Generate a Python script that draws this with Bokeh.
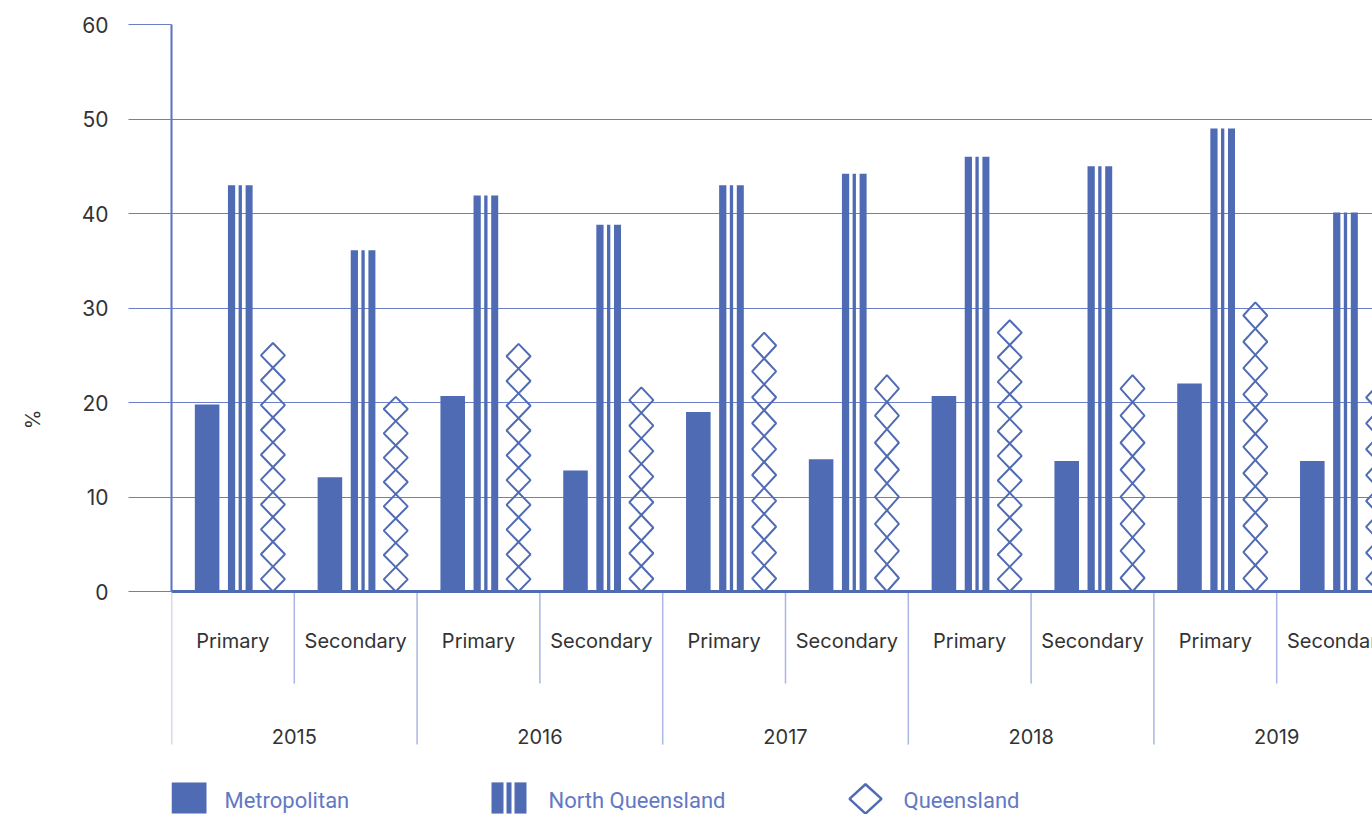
from bokeh.plotting import figure
from bokeh.models import Range1d, FixedTicker
from bokeh.core.properties import value
from bokeh.embed import file_html
from bokeh.resources import INLINE

# ---------------- data ----------------
years = ["2015", "2016", "2017", "2018", "2019"]
levels = ["Primary", "Secondary"]
metropolitan = [19.8, 12.1, 20.7, 12.8, 19.0, 14.0, 20.7, 13.8, 22.0, 13.8]
north_queensland = [43.0, 36.1, 41.9, 38.8, 43.0, 44.2, 46.0, 45.0, 49.0, 40.1]
queensland = [26.3, 20.6, 26.2, 21.6, 27.4, 22.9, 28.7, 22.9, 30.6, 21.9]
y_ticks = [0, 10, 20, 30, 40, 50, 60]
series_names = ["Metropolitan", "North Queensland", "Queensland"]

# ---------------- style ----------------
BLUE = "#4f6bb4"
GRID = "#6b7fc8"
SEP = "#a9b6e4"
TXT = "#333333"
LEG_TXT = "#6378c4"
PX = 122.8          # pixels per slot
FONT = "Inter"
X_END = 1201 / PX

n_slots = len(years) * len(levels)
slot_x = [i + 0.5 for i in range(n_slots)]
sub_labels = [lv for _ in years for lv in levels]

p = figure(width=1372, height=814, output_backend="svg", toolbar_location=None,
           x_range=Range1d(0, X_END), y_range=Range1d(60 - 790 / 9.45, 60),
           x_axis_location=None, min_border_left=171, min_border_right=0,
           min_border_top=24, min_border_bottom=0)
p.outline_line_color = None
p.background_fill_color = "white"
p.xgrid.visible = False
p.ygrid.ticker = FixedTicker(ticks=y_ticks)
p.ygrid.grid_line_color = GRID
p.ygrid.grid_line_width = 1

ax = p.yaxis[0]
ax.ticker = FixedTicker(ticks=y_ticks)
ax.bounds = (0, 60)
ax.axis_line_color = "#5b70bf"
ax.axis_line_width = 2
ax.major_tick_in = 0
ax.major_tick_out = 43
ax.major_tick_line_color = GRID
ax.major_tick_line_width = 1
ax.minor_tick_line_color = None
ax.major_label_standoff = 20
ax.major_label_text_font = FONT
ax.major_label_text_font_size = "21px"
ax.major_label_text_color = TXT
ax.axis_label = "%"
ax.axis_label_text_font = FONT
ax.axis_label_text_font_size = "20px"
ax.axis_label_text_font_style = "normal"
ax.axis_label_text_color = TXT
ax.axis_label_standoff = 34

# ---- Metropolitan bars ----
p.vbar(x=[c - 0.21 for c in slot_x], top=metropolitan, bottom=0, width=0.2,
       fill_color=BLUE, line_color=None)

# ---- North Queensland striped bars ----
stripe_off = [-0.071, 0.0, 0.072]
stripe_w = [0.059, 0.027, 0.057]
for off, w in zip(stripe_off, stripe_w):
    p.vbar(x=[c + 0.06 + off for c in slot_x], top=north_queensland, bottom=0,
           width=w, fill_color=BLUE, line_color=None)

# ---- Queensland diamond stacks ----
hw = 12 / PX
xs, ys = [], []
for c, v in zip(slot_x, queensland):
    n = max(1, round(v / 2.72))
    h = v / n
    cx = c + 0.326
    for k in range(n):
        b, t = k * h, (k + 1) * h
        m = (b + t) / 2
        xs.append([cx - hw, cx, cx + hw, cx])
        ys.append([m, t, m, b])
p.patches(xs=xs, ys=ys, fill_color=None, line_color=BLUE, line_width=2)

# ---- separators below axis ----
sep_x = list(range(0, n_slots))
sep_y1 = [-16.2 if k % 2 == 0 else -9.74 for k in sep_x]
p.segment(x0=sep_x, y0=[0] * len(sep_x), x1=sep_x, y1=sep_y1,
          line_color=SEP, line_width=1.5)

# baseline
p.segment(x0=[0], y0=[0], x1=[X_END], y1=[0], line_color=BLUE, line_width=3)

# ---- category labels ----
p.text(x=slot_x, y=[-5.2] * n_slots, text=sub_labels, text_align="center",
       text_baseline="middle", text_font=value(FONT), text_font_size="20px",
       text_color=TXT)
p.text(x=[2 * j + 1 for j in range(len(years))], y=[-15.35] * len(years), text=years,
       text_align="center", text_baseline="middle", text_font=value(FONT),
       text_font_size="20px", text_color=TXT)

# ---- legend (drawn) ----
LY = -22.1
p.quad(left=[0], right=[35 / PX], top=[-20.2], bottom=[-23.5],
       fill_color=BLUE, line_color=None)
lx = 320 / PX
for l, r in [(0, 12), (15, 20), (23, 35)]:
    p.quad(left=[lx + l / PX], right=[lx + r / PX], top=[-20.2], bottom=[-23.5],
           fill_color=BLUE, line_color=None)
dcx, dcy, dhw, dhh = 694 / PX, -21.95, 16 / PX, 1.55
p.patch(x=[dcx - dhw, dcx, dcx + dhw, dcx], y=[dcy, dcy + dhh, dcy, dcy - dhh],
        fill_color=None, line_color=BLUE, line_width=2.5)
p.text(x=[53 / PX, 377 / PX, 732 / PX], y=[LY] * 3, text=series_names,
       text_align="left", text_baseline="middle", text_font=value("Roboto"),
       text_font_size="22px", text_color=LEG_TXT)

open("out.html", "w").write(file_html(p, INLINE))
